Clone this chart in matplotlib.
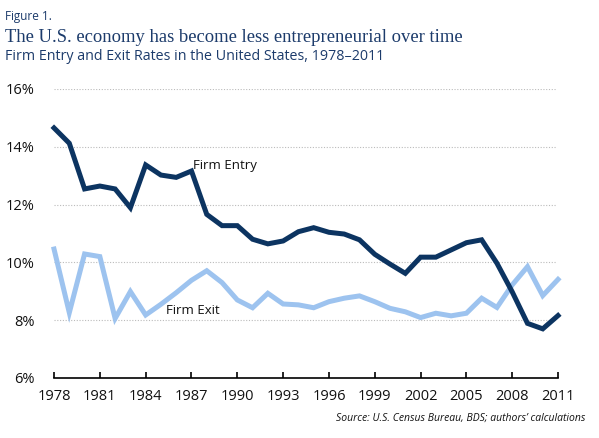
import matplotlib.pyplot as plt
import numpy as np

# data (percent)
years = list(range(1978, 2012))
entry_rate = [14.65, 14.12, 12.54, 12.64, 12.54, 11.89, 13.37, 13.02, 12.94, 13.16,
              11.66, 11.27, 11.27, 10.80, 10.64, 10.74, 11.06, 11.20, 11.04, 10.98,
              10.78, 10.28, 9.94, 9.62, 10.18, 10.18, 10.43, 10.68, 10.78, 9.97,
              8.98, 7.89, 7.70, 8.16]
exit_rate = [10.46, 8.26, 10.29, 10.20, 8.06, 8.99, 8.18, 8.55, 8.95, 9.38,
             9.71, 9.30, 8.70, 8.43, 8.93, 8.56, 8.53, 8.43, 8.64, 8.76,
             8.84, 8.64, 8.41, 8.29, 8.09, 8.24, 8.15, 8.24, 8.76, 8.44,
             9.22, 9.85, 8.85, 9.41]
xticks = list(range(1978, 2012, 3))
yticks = [6, 8, 10, 12, 14, 16]

NAVY = '#0c3461'
LIGHT = '#9dc3ef'
TEXT_NAVY = '#1c3b6b'
sans = ['Open Sans', 'DejaVu Sans']

fig = plt.figure(figsize=(5.99, 4.38), dpi=100)
ax = fig.add_axes([0.0902, 0.137, 0.8414, 0.660])

ax.plot(years, entry_rate, color=NAVY, lw=3.6, solid_joinstyle='miter', clip_on=False, zorder=3)
ax.plot(years, exit_rate, color=LIGHT, lw=3.6, solid_joinstyle='miter', clip_on=False, zorder=2)

ax.set_xlim(1978, 2011)
ax.set_ylim(6, 16)
ax.set_xticks(xticks)
ax.set_xticklabels([str(y) for y in xticks], family=sans, fontsize=10.5, color='#111111')
ax.set_yticks(yticks)
ax.set_yticklabels([f'{y}%' for y in yticks], family=sans, fontsize=10.5, color='#111111')

for y in yticks[1:]:
    ax.axhline(y, xmin=0, xmax=0.995, color='#bbbbbb', lw=0.8, ls=(0, (1, 1.5)), zorder=1)

for s in ['top', 'right', 'left']:
    ax.spines[s].set_visible(False)
ax.spines['bottom'].set_linewidth(1.2)
ax.tick_params(axis='x', direction='in', length=4, width=1.2, pad=8)
ax.tick_params(axis='y', length=0, pad=14)

ax.text(1987.1, 13.22, 'Firm Entry', family=sans, fontsize=9.5, color='#111111')
ax.text(1985.3, 8.22, 'Firm Exit', family=sans, fontsize=9.5, color='#111111')

fig.text(0.008, 0.955, 'Figure 1.', family=sans, fontsize=8.5, color=TEXT_NAVY)
fig.text(0.008, 0.905, 'The U.S. economy has become less entrepreneurial over time',
         family=['Liberation Serif', 'DejaVu Serif'], fontsize=13.4, color=TEXT_NAVY)
fig.text(0.008, 0.862, 'Firm Entry and Exit Rates in the United States, 1978\u20132011',
         family=sans, fontsize=10.3, color=TEXT_NAVY)
fig.text(0.978, 0.04, 'Source: U.S. Census Bureau, BDS; authors\u2019 calculations',
         family=sans, fontsize=7.5, style='italic', color='#111111', ha='right')

fig.savefig('out.png', dpi=100)
